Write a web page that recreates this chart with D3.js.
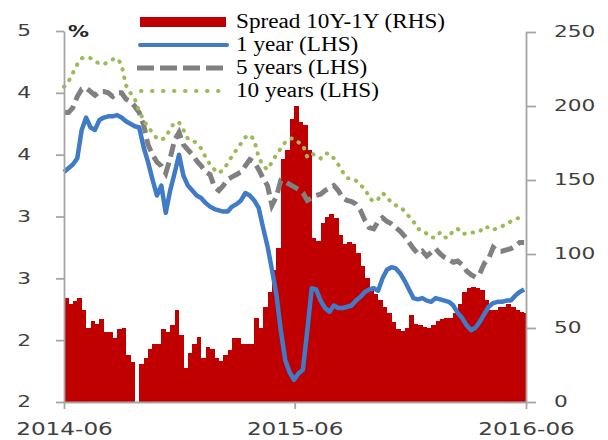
<!DOCTYPE html>
<html>
<head>
<meta charset="utf-8">
<script src="https://cdn.jsdelivr.net/npm/d3@7"></script>
<style>
	body { margin: 0; background: #fff; }
	svg { display: block; }
</style>
</head>
<body>
<svg id="chart"></svg>
<script>
// weekly readings, Jun 2014 - May 2016
const spread = [70, 66, 68, 70, 62, 50, 55, 53, 56, 47, 47, 43, 49, 50, 32, 27, 0, 26, 30, 36,
	39, 39, 49, 47, 52, 62, 45, 23, 33, 39, 44, 30, 37, 36, 30, 28, 32, 35, 43, 43,
	39, 39, 39, 57, 50, 64, 74, 89, 104, 164, 170, 191, 200, 189, 187, 170, 111, 109, 121, 125,
	127, 124, 113, 107, 108, 107, 101, 92, 84, 78, 73, 69, 64, 60, 54, 49, 48, 50, 59, 53,
	52, 51, 50, 52, 55, 56, 57, 57, 60, 66, 74, 77, 78, 77, 76, 69, 62, 62, 64, 64,
	66, 64, 62, 61, 60];
const oneYear = [3.86, 3.89, 3.92, 3.97, 4.20, 4.30, 4.22, 4.20, 4.28, 4.30, 4.31, 4.31, 4.32, 4.30, 4.27, 4.25, 4.23, 4.22, 4.06, 3.94,
	3.80, 3.67, 3.75, 3.53, 3.71, 3.85, 4.00, 3.83, 3.75, 3.71, 3.67, 3.65, 3.61, 3.58, 3.56, 3.55, 3.54, 3.54, 3.58, 3.60,
	3.63, 3.69, 3.67, 3.63, 3.57, 3.41, 3.26, 3.07, 2.87, 2.58, 2.34, 2.24, 2.18, 2.23, 2.26, 2.58, 2.92, 2.91, 2.82, 2.76,
	2.73, 2.78, 2.76, 2.76, 2.77, 2.78, 2.82, 2.85, 2.89, 2.91, 2.92, 2.90, 3.00, 3.07, 3.09, 3.08, 3.04, 2.98, 2.91, 2.84,
	2.83, 2.84, 2.82, 2.81, 2.84, 2.83, 2.82, 2.81, 2.78, 2.72, 2.68, 2.62, 2.58, 2.60, 2.65, 2.71, 2.77, 2.80, 2.81, 2.81,
	2.82, 2.82, 2.86, 2.89, 2.91];
const fiveYears = [4.34, 4.34, 4.38, 4.47, 4.53, 4.54, 4.51, 4.48, 4.51, 4.51, 4.50, 4.47, 4.50, 4.50, 4.45, 4.43, 4.39, 4.34, 4.24, 4.08,
	4.00, 3.94, 3.91, 3.85, 3.97, 4.12, 4.18, 4.08, 4.04, 4.00, 3.95, 3.91, 3.86, 3.84, 3.74, 3.71, 3.75, 3.80, 3.82, 3.84,
	3.86, 3.91, 3.96, 3.94, 3.88, 3.81, 3.75, 3.59, 3.66, 3.79, 3.78, 3.76, 3.74, 3.72, 3.69, 3.63, 3.65, 3.67, 3.68, 3.71,
	3.73, 3.75, 3.71, 3.65, 3.63, 3.62, 3.60, 3.55, 3.47, 3.41, 3.40, 3.46, 3.49, 3.46, 3.44, 3.41, 3.38, 3.34, 3.29, 3.24,
	3.20, 3.22, 3.18, 3.21, 3.24, 3.20, 3.17, 3.15, 3.13, 3.14, 3.11, 3.06, 3.03, 3.01, 3.04, 3.12, 3.16, 3.25, 3.22, 3.22,
	3.23, 3.24, 3.26, 3.29, 3.29];
const tenYears = [4.55, 4.59, 4.66, 4.73, 4.78, 4.79, 4.78, 4.75, 4.74, 4.73, 4.75, 4.77, 4.78, 4.73, 4.56, 4.50, 4.45, 4.35, 4.28, 4.22,
	4.18, 4.13, 4.12, 4.14, 4.21, 4.26, 4.26, 4.20, 4.13, 4.12, 4.09, 4.05, 3.98, 3.92, 3.88, 3.85, 3.88, 3.93, 3.99, 4.04,
	4.09, 4.14, 4.16, 4.12, 3.98, 3.91, 3.88, 3.94, 4.00, 4.05, 4.10, 4.13, 4.13, 4.10, 4.08, 3.98, 4.01, 3.99, 3.97, 4.01,
	4.01, 3.97, 3.92, 3.86, 3.81, 3.81, 3.79, 3.75, 3.73, 3.65, 3.62, 3.64, 3.69, 3.66, 3.61, 3.59, 3.58, 3.54, 3.50, 3.46,
	3.40, 3.39, 3.36, 3.33, 3.33, 3.37, 3.33, 3.33, 3.39, 3.40, 3.36, 3.36, 3.37, 3.37, 3.38, 3.42, 3.41, 3.39, 3.41, 3.42,
	3.44, 3.46, 3.48, 3.49, 3.49];

const leftTicks = [2, 2.5, 3, 3.5, 4, 4.5, 5];
const leftTickLabels = ['2', '2', '3', '3', '4', '4', '5'];
const rightTicks = [0, 50, 100, 150, 200, 250];
const dateTicks = [new Date(2014, 5, 1), new Date(2015, 5, 1), new Date(2016, 5, 1)];
const legendLabels = ['Spread 10Y-1Y (RHS)', '1 year (LHS)', '5 years (LHS)', '10 years (LHS)'];

const width = 608;
const height = 440;
const plotLeft = 64, plotRight = 526, plotTop = 31, plotBottom = 402;
const axisGray = '#a6a6a6';
const textColor = '#404040';

const weeks = d3.timeWeek.range(new Date(2014, 5, 1), new Date(2016, 5, 1));

const svg = d3.select('#chart').attr('width', width).attr('height', height);

const x = d3.scaleTime().domain([dateTicks[0], dateTicks[2]]).range([plotLeft, plotRight]);
const yL = d3.scaleLinear().domain([2, 5]).range([plotBottom, plotTop]);
const yR = d3.scaleLinear().domain([0, 250]).range([plotBottom, plotTop + 1]);

svg.append('clipPath').attr('id', 'plot')
	.append('rect').attr('x', plotLeft).attr('y', 0).attr('width', plotRight - plotLeft).attr('height', plotBottom);

// spread bars
const barW = x(weeks[1]) - x(weeks[0]);
svg.append('g').attr('clip-path', 'url(#plot)')
	.selectAll('rect')
	.data(weeks)
	.enter()
	.append('rect')
	.attr('x', (d) => x(d))
	.attr('width', barW + 0.3)
	.attr('y', (d, i) => yR(spread[i]))
	.attr('height', (d, i) => plotBottom - yR(spread[i]))
	.attr('fill', '#c00000')
	.attr('shape-rendering', 'crispEdges');

const lineOf = (arr) => d3.line().x((d, i) => x(weeks[i])).y((d) => yL(d))(arr);

svg.append('path').attr('d', lineOf(fiveYears))
	.attr('fill', 'none').attr('stroke', '#808080').attr('stroke-width', 5)
	.attr('stroke-dasharray', '13 6');
svg.append('path').attr('d', lineOf(tenYears))
	.attr('fill', 'none').attr('stroke', '#9bbb59').attr('stroke-width', 4)
	.attr('stroke-linecap', 'round').attr('stroke-dasharray', '0.5 8');
svg.append('path').attr('d', lineOf(oneYear))
	.attr('fill', 'none').attr('stroke', '#3f7bc6').attr('stroke-width', 4.5)
	.attr('stroke-linejoin', 'round');

// axes
const styleAxis = (g) => {
	g.select('.domain').attr('stroke', axisGray).attr('stroke-width', 1.8);
	g.selectAll('.tick line').attr('stroke', axisGray).attr('stroke-width', 1.8);
	g.selectAll('text').attr('fill', textColor).attr('font-family', 'DejaVu Sans');
};

const gL = svg.append('g').attr('transform', `translate(${plotLeft},0)`)
	.call(d3.axisLeft(yL).tickValues(leftTicks).tickSize(8).tickSizeOuter(0)
		.tickFormat((d, i) => leftTickLabels[i]));
styleAxis(gL);
gL.selectAll('text').attr('font-size', 15.5).attr('x', -33 / 1.4)
	.attr('transform', 'scale(1.4,1)');

const gR = svg.append('g').attr('transform', `translate(${plotRight},0)`)
	.call(d3.axisRight(yR).tickValues(rightTicks).tickSize(10).tickSizeOuter(0));
styleAxis(gR);
gR.selectAll('text').attr('font-size', 15.5).attr('x', 28 / 1.4)
	.attr('transform', 'scale(1.4,1)');

const gB = svg.append('g').attr('transform', `translate(0,${plotBottom})`)
	.call(d3.axisBottom(x).tickValues(dateTicks).tickSize(7).tickSizeOuter(0)
		.tickFormat(d3.timeFormat('%Y-%m')));
styleAxis(gB);
gB.selectAll('text').attr('font-size', 18.5).attr('y', 33).attr('dy', 0)
	.attr('transform', 'scale(1.25,1)');

svg.append('text')
	.attr('transform', 'translate(68,37) scale(1.4,1)')
	.attr('font-family', 'DejaVu Sans').attr('font-weight', 'bold')
	.attr('font-size', 15).attr('fill', '#262626')
	.text('%');

// legend
const lg = svg.append('g');
const rowY = [22, 45, 68, 91];
lg.append('rect').attr('x', 140).attr('y', rowY[0] - 5).attr('width', 86).attr('height', 10).attr('fill', '#c00000');
lg.append('line').attr('x1', 140).attr('x2', 227).attr('y1', rowY[1]).attr('y2', rowY[1])
	.attr('stroke', '#3f7bc6').attr('stroke-width', 4).attr('stroke-linecap', 'round');
lg.append('line').attr('x1', 137).attr('x2', 228).attr('y1', rowY[2]).attr('y2', rowY[2])
	.attr('stroke', '#808080').attr('stroke-width', 5).attr('stroke-dasharray', '17 6');
lg.append('line').attr('x1', 141).attr('x2', 228).attr('y1', rowY[3]).attr('y2', rowY[3])
	.attr('stroke', '#9bbb59').attr('stroke-width', 4).attr('stroke-linecap', 'round')
	.attr('stroke-dasharray', '0.5 10.5');

lg.selectAll('text.leg')
	.data(legendLabels)
	.enter()
	.append('text')
	.attr('class', 'leg')
	.attr('transform', (d, i) => `translate(236,${rowY[i] + 6}) scale(1.16,1)`)
	.attr('font-family', 'Liberation Serif')
	.attr('font-size', 20)
	.attr('fill', '#000')
	.text((d) => d);
</script>
</body>
</html>
